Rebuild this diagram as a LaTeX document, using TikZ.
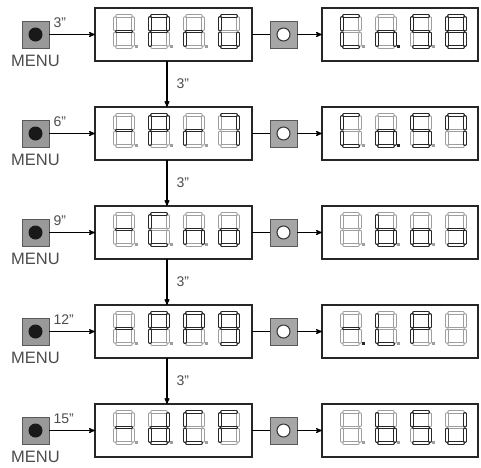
\documentclass[tikz,border=0pt]{standalone}
\usepackage{fontspec}
\setmainfont{Liberation Sans}
\usetikzlibrary{positioning,arrows,calc}

\tikzset{
  segoff/.style={draw=black!38,double=white,double distance=1.5pt,line width=1pt,line cap=round},
  segon/.style={draw=black!85,double=white,double distance=1.5pt,line width=1.2pt,line cap=round},
  dispbox/.style={draw=black!85,line width=1.6pt,minimum width=157pt,minimum height=53pt,inner sep=0pt,outer sep=0pt},
  menubtn/.style={draw=black!65,fill=black!40,line width=1pt,minimum size=27pt,inner sep=0pt,outer sep=0pt,
    path picture={\fill[black!90] (path picture bounding box.center) circle (7pt);}},
  okbtn/.style={draw=black!65,fill=black!35,line width=1pt,minimum size=27pt,inner sep=0pt,outer sep=0pt,
    path picture={\draw[black!80,fill=white,line width=1pt] (path picture bounding box.center) circle (6.5pt);}},
  menutxt/.style={text=black!70,font=\fontsize{16.5}{17}\selectfont,inner sep=0pt},
  lbl/.style={text=black!70,font=\fontsize{14}{14}\selectfont,inner sep=0pt}
}

% one 7-segment digit, #1 = x offset, #2 = lit segments (n = none)
\newcommand{\segdigit}[2]{%
  \begin{scope}[shift={(#1,-18.5)}]
    \coordinate (a1) at (2,0);     \coordinate (a2) at (16,0);
    \coordinate (b1) at (18,2);    \coordinate (b2) at (18,13.5);
    \coordinate (c1) at (18,17.5); \coordinate (c2) at (18,29);
    \coordinate (d1) at (2,31);    \coordinate (d2) at (16,31);
    \coordinate (e1) at (0,17.5);  \coordinate (e2) at (0,29);
    \coordinate (f1) at (0,2);     \coordinate (f2) at (0,13.5);
    \coordinate (g1) at (2,15.5);  \coordinate (g2) at (16,15.5);
    \foreach \s in {a,...,g} \draw[segoff] (\s1) -- (\s2);
    \foreach \s in {#2} {\if\s n\else\draw[segon] (\s1) -- (\s2);\fi}
  \end{scope}}

% four digits in a display, #6 = lit dot (0 = none)
\newcommand{\segrow}[6]{%
  \begin{scope}[shift={(#1.west)}]
    \segdigit{20}{#2}\segdigit{55}{#3}\segdigit{90}{#4}\segdigit{125}{#5}
    \foreach \i in {1,2,3} {%
      \ifnum\i=#6 \def\dotcol{black!85}\else\def\dotcol{black!38}\fi
      \fill[\dotcol] (5+35*\i,10) rectangle ++(3,3);}
  \end{scope}}

\begin{document}
\begin{tikzpicture}[>=stealth',x=1pt,y=-1pt,line width=1.1pt]
\useasboundingbox (0,0) rectangle (481,467);
% first row
\node[dispbox] (L1) at (173.5,34.5) {};
\node[menubtn,left=46pt of L1] (M1) {};
\node[menutxt,below=7pt of M1] (T1) {MENU};
\node[okbtn,right=18pt of L1] (K1) {};
\node[dispbox,right=25pt of K1,minimum width=156pt] (R1) {};
% other rows
\node[dispbox,below=46pt of L1] (L2) {};
\node[menubtn,left=46pt of L2] (M2) {};
\node[menutxt,below=7pt of M2] (T2) {MENU};
\node[okbtn,right=18pt of L2] (K2) {};
\node[dispbox,right=25pt of K2,minimum width=156pt] (R2) {};
\node[dispbox,below=46pt of L2] (L3) {};
\node[menubtn,left=46pt of L3] (M3) {};
\node[menutxt,below=7pt of M3] (T3) {MENU};
\node[okbtn,right=18pt of L3] (K3) {};
\node[dispbox,right=25pt of K3,minimum width=156pt] (R3) {};
\node[dispbox,below=46pt of L3] (L4) {};
\node[menubtn,left=46pt of L4] (M4) {};
\node[menutxt,below=7pt of M4] (T4) {MENU};
\node[okbtn,right=18pt of L4] (K4) {};
\node[dispbox,right=25pt of K4,minimum width=156pt] (R4) {};
\node[dispbox,below=46pt of L4] (L5) {};
\node[menubtn,left=46pt of L5] (M5) {};
\node[menutxt,below=7pt of M5] (T5) {MENU};
\node[okbtn,right=18pt of L5] (K5) {};
\node[dispbox,right=25pt of K5,minimum width=156pt] (R5) {};
% connectors
\foreach \r/\t in {1/3,2/6,3/9,4/12,5/15} {
  \draw[->] (M\r) -- (L\r) node[lbl,pos=0,anchor=south west,xshift=4pt,yshift=6pt] {\t"};
  \draw (L\r) -- (K\r);
  \draw[->] (K\r) -- (R\r);
}
\foreach \r/\s in {1/2,2/3,3/4,4/5}
  \draw[->] ([xshift=-6.5pt]L\r.south) -- ([xshift=-6.5pt]L\s.north) node[lbl,midway,anchor=west,xshift=9pt] {3"};
% displays
\segrow{L1}{g}{a,b,e,f,g}{e,g}{a,c,d,e,f}{0}
\segrow{R1}{a,d,e,f}{c,e,g}{a,c,d,f,g}{a,b,c,d,e,f,g}{2}
\segrow{L2}{g}{a,b,e,f,g}{e,g}{a,b,c}{0}
\segrow{R2}{a,d,e,f}{c,d,e,g}{a,c,d,f,g}{a,b,c,f}{2}
\segrow{L3}{g}{a,d,e,f}{c,e,g}{c,d,e,g}{0}
\segrow{R3}{n}{c,d,e,f,g}{c,d,e,g}{c,d,g}{0}
\segrow{L4}{g}{a,b,e,f,g}{a,b,e,f,g}{a,b,c,d,f,g}{0}
\segrow{R4}{g}{d,e,f}{a,b,e,f,g}{n}{1}
\segrow{L5}{g}{b,c,d,e,g}{a,d,e,f}{a,e,f,g}{0}
\segrow{R5}{n}{c,d,e,f,g}{a,c,d,f,g}{b,c,d,e}{0}
\end{tikzpicture}
\end{document}
